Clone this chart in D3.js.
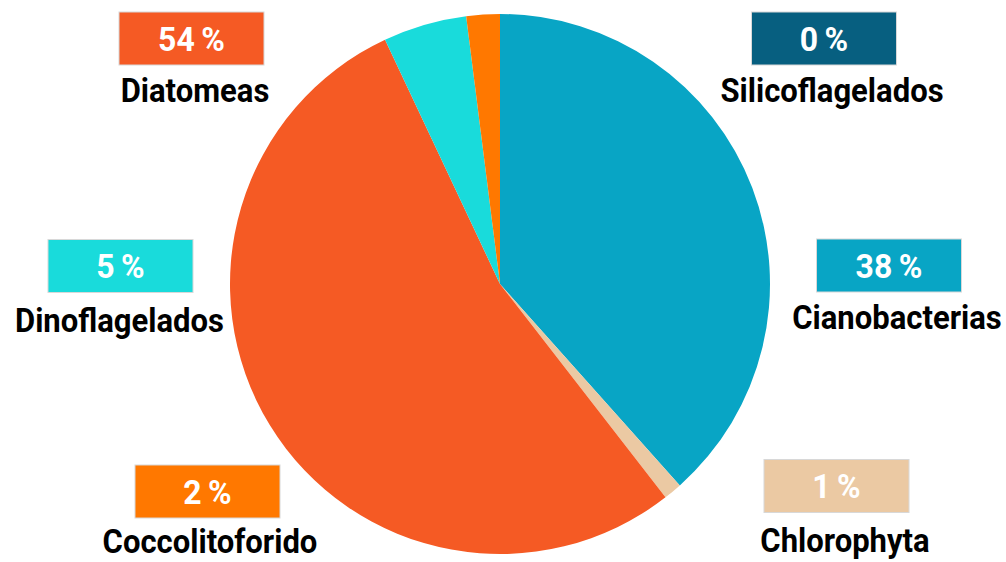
<!DOCTYPE html>
<html>
<head>
<meta charset="utf-8">
<script src="https://cdn.jsdelivr.net/npm/d3@7"></script>
<style>
html,body{margin:0;padding:0;background:#fff;}
svg{display:block;}
text{font-family:Roboto,"Noto Sans",sans-serif;font-weight:bold;}
</style>
</head>
<body>
<svg id="chart" width="1006" height="562"></svg>
<script>
// Data
const categories = ["Cianobacterias","Chlorophyta","Diatomeas","Dinoflagelados","Coccolitoforido","Silicoflagelados"];
const values = [38.4, 1.1, 53.5, 5.0, 2.0, 0];
const colors = ["#08a5c5","#ebc9a3","#f55a24","#19dbdb","#ff7800","#075f80"];

// Layout (label box centres and name centres, px)
const layout = {
  "Cianobacterias":   {bx:889, by:265.5, lx:897, ly:329},
  "Chlorophyta":      {bx:836.5, by:486, lx:845, ly:552},
  "Diatomeas":        {bx:191.5, by:38.5, lx:195, ly:102},
  "Dinoflagelados":   {bx:120.5, by:266, lx:119.5, ly:332},
  "Coccolitoforido":  {bx:207.5, by:491.5, lx:210, ly:553},
  "Silicoflagelados": {bx:824, by:38.5, lx:832, ly:102}
};
const boxW = 145, boxH = 53;
const condense = 0.94;

const svg = d3.select("#chart");
const cx = 500, cy = 284, r = 270;

const data = categories.map((c,i)=>({cat:c, value:values[i], color:colors[i]}));

const pie = d3.pie().value(d=>d.value).sort(null);
const arc = d3.arc().innerRadius(0).outerRadius(r);

svg.append("g").attr("transform",`translate(${cx},${cy})`)
  .selectAll("path").data(pie(data)).join("path")
  .attr("d",arc)
  .attr("fill",d=>d.data.color);

const lab = svg.append("g");
data.forEach(d=>{
  const L = layout[d.cat];
  lab.append("rect")
    .attr("x",L.bx-boxW/2).attr("y",L.by-boxH/2)
    .attr("width",boxW).attr("height",boxH)
    .attr("fill",d.color)
    .attr("stroke","#d8d8d8").attr("stroke-width",1);
  lab.append("g").attr("transform",`translate(${L.bx},${L.by}) scale(${condense},1)`)
    .append("text")
    .attr("dy","0.36em")
    .attr("text-anchor","middle")
    .attr("fill","#fff")
    .attr("font-size",34)
    .text(Math.round(d.value)+"\u2009%");
  lab.append("g").attr("transform",`translate(${L.lx},${L.ly}) scale(${condense},1)`)
    .append("text")
    .attr("text-anchor","middle")
    .attr("fill","#000")
    .attr("font-size",33)
    .text(d.cat);
});
</script>
</body>
</html>
